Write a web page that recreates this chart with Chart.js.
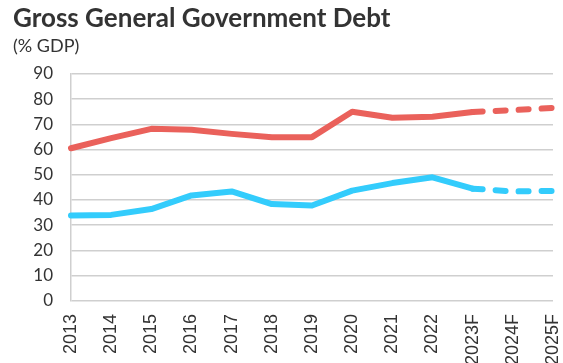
<!DOCTYPE html>
<html>
<head>
<meta charset="utf-8">
<script src="https://cdn.jsdelivr.net/npm/chart.js@4/dist/chart.umd.min.js"></script>
<style>
  html, body { margin: 0; padding: 0; background: #fff; overflow: hidden; }
  #wrap { width: 563px; height: 378px; position: relative; }
</style>
</head>
<body>
<div id="wrap"><canvas id="chart"></canvas></div>
<script>
const years = ['2013', '2014', '2015', '2016', '2017', '2018', '2019', '2020', '2021', '2022', '2023F', '2024F', '2025F'];
const debtRed = [60.5, 64.5, 68.2, 67.8, 66.2, 64.9, 64.9, 75.0, 72.6, 73.0, 74.9, 75.6, 76.5];
const debtBlue = [33.9, 34.1, 36.4, 41.8, 43.4, 38.4, 37.8, 43.7, 46.7, 49.0, 44.5, 43.4, 43.6];
const yTicks = [0, 10, 20, 30, 40, 50, 60, 70, 80, 90];
const forecastFrom = 10; // index of 2023F

const dashed = (ctx) => (ctx.p0DataIndex >= forecastFrom ? [10, 13] : undefined);

const lineSet = (data, color) => ({
  data: data,
  borderColor: color,
  backgroundColor: color,
  borderWidth: 6,
  pointRadius: 0,
  tension: 0,
  borderCapStyle: 'round',
  borderJoinStyle: 'round',
  segment: { borderDash: dashed },
});

new Chart(document.getElementById('chart'), {
  type: 'line',
  data: {
    labels: years,
    datasets: [lineSet(debtRed, '#ea615b'), lineSet(debtBlue, '#33ccfc')],
  },
  options: {
    responsive: true,
    maintainAspectRatio: false,
    animation: false,
    layout: { padding: { left: 13, right: 10, top: 0, bottom: 0 } },
    plugins: {
      legend: { display: false },
      tooltip: { enabled: false },
      title: {
        display: true,
        text: 'Gross General Government Debt',
        align: 'start',
        color: '#333',
        font: { family: 'Lato', size: 26, weight: 'bold' },
        padding: { top: 3, bottom: 0 },
      },
      subtitle: {
        display: true,
        text: '(% GDP)',
        align: 'start',
        color: '#333',
        font: { family: 'Lato', size: 18 },
        padding: { top: 1, bottom: 17 },
      },
    },
    scales: {
      x: {
        offset: false,
        grid: { display: false, drawTicks: false },
        border: { display: false },
        afterFit: (axis) => { axis.paddingLeft = 0; axis.paddingRight = 0; },
        ticks: {
          color: '#333',
          font: { family: 'Liberation Sans', size: 18 },
          maxRotation: 90,
          minRotation: 90,
          padding: 13,
          autoSkip: false,
        },
      },
      y: {
        min: 0,
        max: 90,
        afterBuildTicks: (axis) => { axis.ticks = yTicks.map((v) => ({ value: v })); },
        afterFit: (axis) => { axis.width = 58; },
        grid: { color: '#cfcfcf', lineWidth: 1.5, drawTicks: false },
        border: { display: true, color: '#cfcfcf', width: 1.5 },
        ticks: {
          color: '#333',
          font: { family: 'Lato', size: 17 },
          padding: 18,
        },
      },
    },
  },
});
</script>
</body>
</html>
